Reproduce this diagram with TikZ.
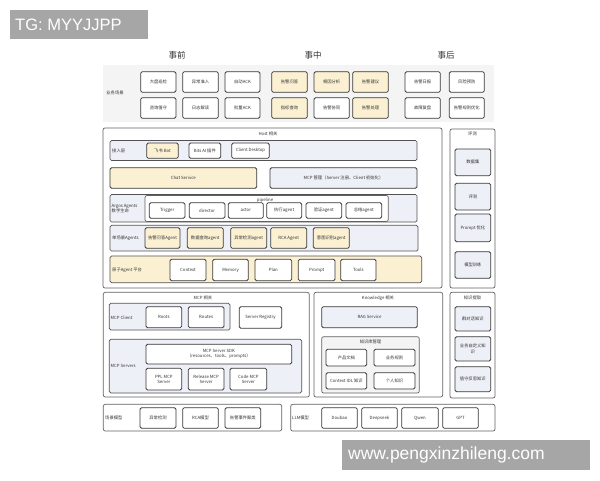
\documentclass[tikz,border=0pt]{standalone}
\usepackage{fontspec}
\setmainfont{Noto Sans CJK SC}
\newfontfamily\wmfont{Liberation Sans}
\definecolor{ylw}{HTML}{FBF1D2}
\definecolor{lbl}{HTML}{EEF0F8}
\definecolor{bandgray}{HTML}{F4F4F4}
\definecolor{txt}{HTML}{333333}
\tikzset{
  tinyf/.style={font=\fontsize{4.3}{5.2}\selectfont},
  sub/.style={draw=black!78, line width=0.8pt, rounded corners=1.5pt, fill=white, inner sep=0.5pt, outer sep=0pt, tinyf, text=txt, align=center},
  ysub/.style={sub, fill=ylw},
  bsub/.style={sub, fill=lbl},
  band/.style={draw=black!68, line width=0.7pt, rounded corners=1.5pt, fill=lbl, inner sep=0pt, outer sep=0pt},
  yband/.style={band, fill=ylw},
  cont/.style={draw=black!62, line width=0.7pt, rounded corners=2pt, fill=white, inner sep=0pt, outer sep=0pt},
  gcont/.style={draw=black!62, line width=0.7pt, rounded corners=2pt, fill=bandgray, inner sep=0pt, outer sep=0pt},
  lab/.style={tinyf, text=txt, inner sep=0pt, align=left},
  head/.style={font=\fontsize{8.5}{9}\selectfont, text=txt, inner sep=0pt},
  wm/.style={fill=black!35, text=white, inner sep=0pt, outer sep=0pt, anchor=north west}
}
\newcommand\B[7]{\node[#2, anchor=north west, minimum width={#5pt-#3pt}, minimum height={#6pt-#4pt}] (#1) at (#3,#4) {#7};}
\begin{document}
\begin{tikzpicture}[x=1pt,y=-1pt]
\useasboundingbox (0,0) rectangle (600,480);
\fill[white] (0,0) rectangle (600,480);

% headers
\node[head] (h1) at (177,55) {事前};
\node[head] (h2) at (313,55) {事中};
\node[head] (h3) at (446,55) {事后};

% business band
\node[fill=bandgray, anchor=north west, minimum width=391pt, minimum height=57pt, inner sep=0pt] (bizband) at (103,65) {};
\node[lab] (bizlab) at (115,93) {业务场景};
\B{r1a}{sub}{140.7}{71.7}{176}{92.3}{大盘巡检}
\B{r1b}{sub}{182.7}{71.7}{218.3}{92.3}{异常准入}
\B{r1c}{sub}{225}{71.7}{260}{92.3}{自动ACK}
\B{r1d}{ysub}{271.7}{71.7}{307.3}{92.3}{告警问答}
\B{r1e}{ysub}{314}{71.7}{349.3}{92.3}{根因分析}
\B{r1f}{ysub}{352.7}{71.7}{388.3}{92.3}{告警建议}
\B{r1g}{sub}{405}{71.7}{440.3}{92.3}{告警日报}
\B{r1h}{sub}{449.3}{71.7}{484.3}{92.3}{风险预防}
\B{r2a}{sub}{140.7}{97.7}{176}{118.3}{咨询值守}
\B{r2b}{sub}{182.7}{97.7}{218.3}{118.3}{日志解读}
\B{r2c}{sub}{225}{97.7}{260}{118.3}{批量ACK}
\B{r2d}{ysub}{271.7}{97.7}{307.3}{118.3}{指标查询}
\B{r2e}{sub}{314}{97.7}{349.3}{118.3}{告警协同}
\B{r2f}{ysub}{352.7}{97.7}{388.3}{118.3}{告警处理}
\B{r2g}{sub}{405}{97.7}{440.3}{118.3}{故障复盘}
\B{r2h}{sub}{449.3}{97.7}{484.3}{118.3}{告警规则优化}

% Host
\B{host}{cont}{103}{128}{442}{288}{}
\node[lab] (hostlab) at (268,134) {Host 相关};
\B{acc}{band}{110}{140.5}{417}{160.5}{}
\node[lab, anchor=west] (acclab) at (112,150.5) {接入层};
\B{fs}{ysub}{146.7}{143}{178.3}{158.3}{飞书 Bot}
\B{bits}{sub}{189}{143}{220.7}{158.3}{Bits AI 插件}
\B{cd}{sub}{231.7}{143}{269.3}{158.3}{Client Desktop}
\B{chat}{ysub}{110}{167.7}{256.7}{188.3}{Chat Service}
\B{mcpm}{bsub}{270}{167.7}{417}{188.3}{MCP 管理（Server 注册、Client 初始化）}
\B{argos}{band}{110}{194.5}{417}{222}{}
\node[lab, anchor=west] (argoslab) at (111.5,208.2) {Argos Agents\\数字生命};
\B{pipe}{cont}{145}{195.5}{388.3}{221.5}{}
\node[lab] (pipelab) at (265,199.8) {pipeline};
\B{trig}{sub}{149.3}{202.7}{185}{218.3}{Trigger}
\B{dir}{sub}{189.3}{202.7}{225}{218.3}{director}
\B{act}{sub}{228.3}{202.7}{263.3}{218.3}{actor}
\B{exe}{sub}{266.7}{202.7}{301.7}{218.3}{执行agent}
\B{ver}{sub}{306}{202.7}{341.7}{218.3}{验证agent}
\B{sumag}{sub}{346}{202.7}{381.7}{218.3}{总结agent}
\B{single}{band}{110}{225.3}{418}{251}{}
\node[lab, anchor=west] (singlelab) at (112,238.2) {单场景Agents};
\B{sa}{ysub}{145}{227.7}{180}{248.3}{告警问答Agent}
\B{sb}{ysub}{187.3}{227.7}{223.3}{248.3}{数据查询agent}
\B{sc}{ysub}{230.7}{227.7}{266.7}{248.3}{异常检测agent}
\B{sd}{ysub}{270.7}{227.7}{306.7}{248.3}{RCA Agent}
\B{se}{ysub}{313.3}{227.7}{349.3}{248.3}{意图识别agent}
\B{atom}{yband}{110}{256}{421.7}{282.7}{}
\node[lab, anchor=west] (atomlab) at (112,270) {原子Agent 平台};
\B{ctx}{sub}{170}{259.3}{206}{280.7}{Context}
\B{mem}{sub}{212.7}{259.3}{248.3}{280.7}{Memory}
\B{plan}{sub}{255}{259.3}{291.7}{280.7}{Plan}
\B{prm}{sub}{298.3}{259.3}{335}{280.7}{Prompt}
\B{tools}{sub}{340.7}{259.3}{376}{280.7}{Tools}

% 评测
\B{eval}{cont}{450}{129}{495}{288}{}
\node[lab] (evallab) at (472.5,134) {评测};
\B{ds}{bsub}{455}{149}{490.7}{175.7}{数据集}
\B{ev}{bsub}{455}{183.3}{490.7}{210}{评测}
\B{po}{bsub}{455}{214}{490.7}{241.7}{Prompt 优化}
\B{mt}{bsub}{455}{251.7}{490.7}{278.3}{模型训练}

% MCP
\B{mcp}{cont}{103.3}{292.3}{309.3}{397}{}
\node[lab] (mcplab) at (203,298) {MCP 相关};
\B{mcpc}{band}{109.3}{303.3}{230}{330}{}
\node[lab, anchor=west] (mcpclab) at (110.5,317.7) {MCP Client};
\B{roots}{sub}{146}{306.7}{181.7}{327.7}{Roots}
\B{routes}{sub}{188.3}{306.7}{224}{327.7}{Routes}
\B{reg}{sub}{239.3}{306.7}{281.7}{328.3}{Server Registry}
\B{mcps}{band}{109.3}{339.3}{301.7}{393}{}
\node[lab, anchor=west] (mcpslab) at (110.5,366) {MCP Servers};
\B{sdk}{sub}{146}{344.3}{291.7}{364}{MCP Server SDK\\（resources、tools、prompts）}
\B{ppl}{sub}{146}{368.3}{181.7}{390}{PPL MCP\\Server}
\B{rel}{sub}{188.3}{368.3}{224}{390}{Release MCP\\Server}
\B{code}{sub}{230}{368.3}{266.7}{390}{Code MCP\\Server}

% Knowledge
\B{know}{cont}{314}{292.3}{442.7}{397}{}
\node[lab] (knowlab) at (378,298) {Knowledge 相关};
\B{rag}{bsub}{321.7}{306.7}{417.3}{327.7}{RAG Service}
\B{kbm}{gcont}{321.7}{336.7}{419.3}{393}{}
\node[lab] (kbmlab) at (370.5,342.3) {知识库管理};
\B{kpa}{sub}{326}{349.3}{366.7}{366}{产品文档}
\B{kpb}{sub}{374}{349.3}{415}{366}{业务规则}
\B{kpc}{sub}{326}{372.7}{366.7}{389}{Context IDL 知识}
\B{kpd}{sub}{374}{372.7}{415}{389}{个人知识}

% 知识提取
\B{kx}{cont}{450}{292.3}{495}{398}{}
\node[lab] (kxlab) at (472.5,298) {知识提取};
\B{kxa}{bsub}{455}{306.7}{490.7}{331}{群对话知识}
\B{kxb}{bsub}{455}{336.7}{490.7}{361}{业务自定义知\\识}
\B{kxc}{bsub}{455}{366.7}{490.7}{391.7}{值守反思知识}

% models
\B{scm}{cont}{103.3}{404.3}{281.7}{431}{}
\node[lab, anchor=west] (scmlab) at (105,418) {场景模型};
\B{ma}{sub}{140}{407.7}{176}{428.3}{异常检测}
\B{mb}{sub}{182.7}{407.7}{218.3}{428.3}{RCA模型}
\B{mc}{sub}{225}{407.7}{260.7}{428.3}{告警事件聚类}
\B{llm}{cont}{290.7}{404.3}{495}{431}{}
\node[lab, anchor=west] (llmlab) at (292,418) {LLM模型};
\B{la}{sub}{321.7}{407.7}{357.3}{428.3}{Doubao}
\B{lb}{sub}{361.7}{407.7}{397.3}{428.3}{Deepseek}
\B{lc}{sub}{401.7}{407.7}{438.3}{428.3}{Qwen}
\B{ld}{sub}{442.7}{407.7}{478.3}{428.3}{GPT}

% watermarks
\node[wm, minimum width=138pt, minimum height=29pt] (wm1) at (10,10) {};
\node[text=white, anchor=west, inner sep=0pt, font=\wmfont\fontsize{16.5}{17}\selectfont] (wm1t) at (15,24.5) {TG: MYYJJPP};
\node[wm, minimum width=248pt, minimum height=30pt] (wm2) at (342,440) {};
\node[text=white, anchor=west, inner sep=0pt, font=\wmfont\fontsize{17.5}{18}\selectfont] (wm2t) at (348,455) {www.pengxinzhileng.com};
\end{tikzpicture}
\end{document}
